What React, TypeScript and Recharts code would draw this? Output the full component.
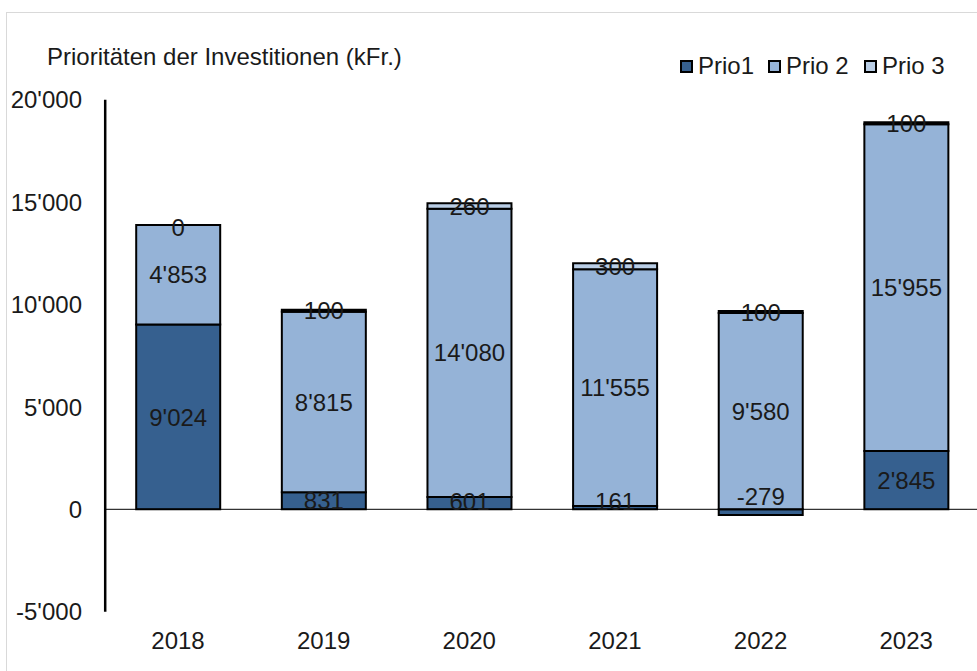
import React from 'react';
import { BarChart, Bar, XAxis, YAxis, CartesianGrid, ReferenceLine, LabelList } from 'recharts';

const categories = ['2018', '2019', '2020', '2021', '2022', '2023'];
const prio1 = [9024, 831, 601, 161, -279, 2845];
const prio2 = [4853, 8815, 14080, 11555, 9580, 15955];
const prio3 = [0, 100, 260, 300, 100, 100];
const yTicks = [-5000, 0, 5000, 10000, 15000, 20000];
const gridValues = [5000, 10000, 15000];
const seriesNames = ['Prio1', 'Prio 2', 'Prio 3'];
const seriesColors = ['#36608F', '#95B3D7', '#B9CDE5'];
const titleText = 'Prioritäten der Investitionen (kFr.)';

const data = categories.map((c, i) => ({ year: c, p1: prio1[i], p2: prio2[i], p3: prio3[i] }));

const FONT = '"Liberation Sans", Arial, sans-serif';
const TXT = '#1a1a1a';

const fmt = (v: number) => {
  const s = Math.abs(v).toString().replace(/\B(?=(\d{3})+(?!\d))/g, "'");
  return (v < 0 ? '-' : '') + s;
};

const labelText = (x: number, cy: number, value: number) => (
  <text x={x} y={cy} dy="0.36em" textAnchor="middle" fontSize={24} fontFamily={FONT} fill={TXT}>
    {fmt(value)}
  </text>
);

// labels for the bottom series: keep clear of the zero line
const renderLabelBase = (props: any) => {
  const { x, y, width, height, value } = props;
  const top = Math.min(y, y + height);
  const h = Math.abs(height);
  const bottom = top + h;
  let cy = top + h / 2;
  if (value < 0) cy = top - 13;
  else cy = Math.min(cy, bottom - 8);
  return labelText(x + width / 2, cy, value);
};

const renderLabel = (props: any) => {
  const { x, y, width, height, value } = props;
  const top = Math.min(y, y + height);
  const h = Math.abs(height);
  return labelText(x + width / 2, top + h / 2, value);
};

// zero-valued top segments have no rectangle: draw their label at the top of the segment below
const renderZeroTopLabel = (props: any) => {
  const { x, y, width, height, value } = props;
  if (value !== 0) return null;
  const top = Math.min(y, y + height);
  return labelText(x + width / 2, top + 2, value);
};

const XTick = (props: any) => {
  const { x, y, payload } = props;
  return (
    <text x={x} y={y + 37} textAnchor="middle" fontSize={24} fontFamily={FONT} fill={TXT}>
      {payload.value}
    </text>
  );
};

const YTick = (props: any) => {
  const { y, payload } = props;
  return (
    <text x={82} y={y} dy="0.36em" textAnchor="end" fontSize={24} fontFamily={FONT} fill={TXT}>
      {fmt(payload.value)}
    </text>
  );
};

export default function App() {
  return (
    <div style={{ position: 'fixed', left: 0, top: 0, width: 977, height: 671, overflow: 'hidden', background: '#fff' }}>
      <div style={{ position: 'absolute', left: 6, top: 12, width: 1000, height: 700, borderTop: '1px solid #d9d9d9', borderLeft: '1px solid #d9d9d9' }} />
      <div style={{ position: 'absolute', left: 0, top: 0 }}>
        <BarChart
          width={979}
          height={671}
          data={data}
          stackOffset="sign"
          margin={{ top: 99.7, right: 0, bottom: 19.3, left: 25.2 }}
          barSize={84}
        >
          <CartesianGrid
            vertical={false}
            stroke="#d9d9d9"
            horizontalCoordinatesGenerator={(args: any) => {
              const yAxis = args && args.yAxis;
              if (yAxis && typeof yAxis.scale === 'function') return gridValues.map((v) => yAxis.scale(v));
              return [];
            }}
          />
          <XAxis dataKey="year" axisLine={false} tickLine={false} tickSize={0} tickMargin={0} height={40} tick={<XTick />} interval={0} />
          <YAxis
            width={80}
            domain={[-5000, 20000]}
            ticks={yTicks}
            interval={0}
            axisLine={{ stroke: '#000', strokeWidth: 2.5 }}
            tickLine={false}
            tick={<YTick />}
          />
          <Bar dataKey="p1" stackId="a" fill={seriesColors[0]} stroke="#000" strokeWidth={2} isAnimationActive={false}>
            <LabelList dataKey="p1" content={renderLabelBase} />
          </Bar>
          <Bar dataKey="p2" stackId="a" fill={seriesColors[1]} stroke="#000" strokeWidth={2} isAnimationActive={false}>
            <LabelList dataKey="p2" content={renderLabel} />
            <LabelList dataKey="p3" content={renderZeroTopLabel} />
          </Bar>
          <Bar dataKey="p3" stackId="a" fill={seriesColors[2]} stroke="#000" strokeWidth={2} isAnimationActive={false}>
            <LabelList dataKey="p3" content={renderLabel} />
          </Bar>
          <ReferenceLine y={0} stroke="#000" strokeWidth={1} />
        </BarChart>
      </div>
      <svg width={977} height={671} style={{ position: 'absolute', left: 0, top: 0, pointerEvents: 'none' }}>
        <text x={47} y={65} fontSize={24} fontFamily={FONT} fill={TXT}>{titleText}</text>
        {[680, 768, 864].map((sx, i) => (
          <g key={i}>
            <rect x={sx + 1} y={61} width={11} height={11} fill={seriesColors[i]} stroke="#000" strokeWidth={2} />
            <text x={sx + 18} y={74} fontSize={24} fontFamily={FONT} fill={TXT}>{seriesNames[i]}</text>
          </g>
        ))}
      </svg>
    </div>
  );
}
